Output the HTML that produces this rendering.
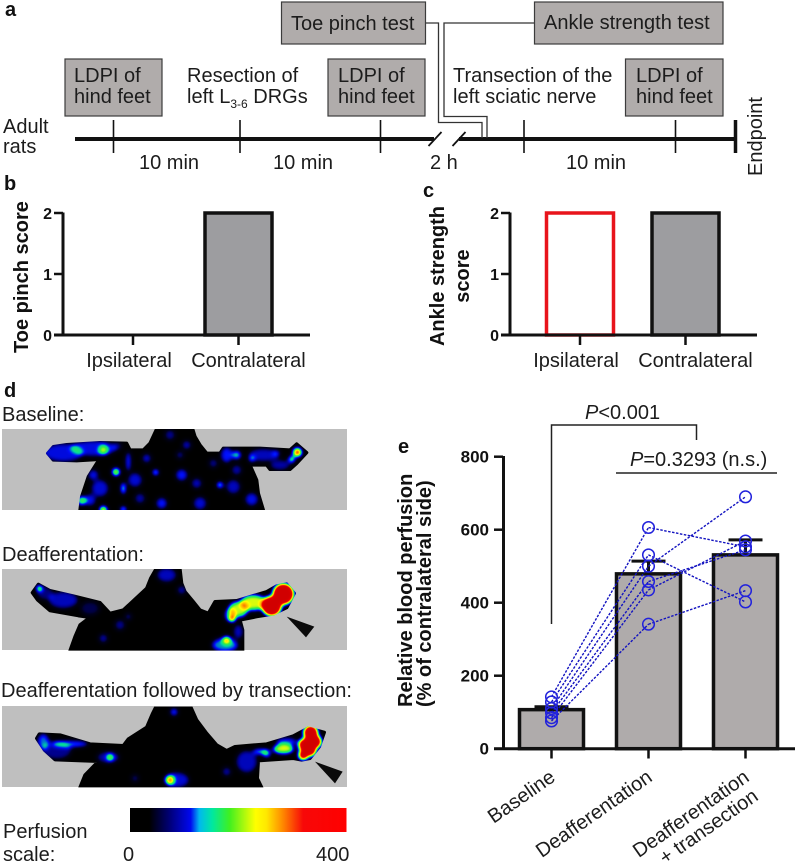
<!DOCTYPE html>
<html lang="en">
<head>
<meta charset="utf-8">
<title>Perfusion figure</title>
<style>
html,body{margin:0;padding:0;background:#fff;}
svg{display:block;}
text{font-family:"Liberation Sans",Arial,sans-serif;fill:#1c1c1c;font-size:20px;}
.pl{font-weight:bold;font-size:20px;fill:#111;}
.bx{fill:#b0acab;stroke:#3c3c3c;stroke-width:1.2;}
.tick{stroke:#111;stroke-width:1.6;}
.conn{fill:none;stroke:#333;stroke-width:1.3;}
.tl{font-weight:bold;font-size:16px;fill:#111;}
.yt{font-weight:bold;font-size:20px;fill:#111;}
.sil{fill:#fff;stroke:#fff;stroke-width:10;stroke-linejoin:round;}
</style>
</head>
<body>
<svg id="fig" xmlns="http://www.w3.org/2000/svg" width="797" height="863" viewBox="0 0 797 863">
<defs>
<linearGradient id="cbar" x1="0" x2="1" y1="0" y2="0">
<stop offset="0" stop-color="#000"/><stop offset=".09" stop-color="#000"/><stop offset=".19" stop-color="#000080"/><stop offset=".28" stop-color="#0008f0"/><stop offset=".32" stop-color="#00b8f0"/><stop offset=".38" stop-color="#00e8a0"/><stop offset=".46" stop-color="#40f020"/><stop offset=".58" stop-color="#ffff00"/><stop offset=".63" stop-color="#ffe800"/><stop offset=".7" stop-color="#ff9000"/><stop offset=".8" stop-color="#f80808"/><stop offset="1" stop-color="#ff0000"/>
</linearGradient>
<filter id="heat" filterUnits="userSpaceOnUse" x="0" y="0" width="1060" height="300" color-interpolation-filters="sRGB">
<feGaussianBlur stdDeviation="7"/>
<feComponentTransfer>
<feFuncR type="table" tableValues="0 0 0 0 0 .25 1 1 .94 .86 .82"/>
<feFuncG type="table" tableValues="0 0 0 .06 .85 .94 1 .63 0 0 0"/>
<feFuncB type="table" tableValues="0 .11 .56 1 .63 .25 0 0 0 0 0"/>
</feComponentTransfer>
</filter>
<clipPath id="box1"><rect x="6" y="27" width="1035" height="243"/></clipPath>
<clipPath id="box2"><rect x="6" y="27" width="1035" height="245"/></clipPath>
<clipPath id="box3"><rect x="6" y="20" width="1035" height="242"/></clipPath>
<mask id="sil1" maskUnits="userSpaceOnUse" x="0" y="0" width="1060" height="300"><polygon class="sil" points="470,27 578,27 585,50 600,75 620,100 660,100 670,85 780,85 870,90 890,72 920,98 890,130 870,148 810,148 800,135 750,135 770,180 775,220 790,270 240,270 245,230 265,170 290,130 300,118 230,122 160,120 143,100 160,80 200,74 300,68 380,70 390,90 430,90 450,70"/></mask>
<mask id="sil2" maskUnits="userSpaceOnUse" x="0" y="0" width="1060" height="300"><polygon class="sil" points="468,27 540,27 545,70 555,95 580,125 600,150 625,160 645,125 710,122 800,95 830,78 860,72 883,100 860,143 820,162 770,170 720,180 728,210 728,272 210,272 225,230 240,195 270,172 235,167 150,152 113,120 97,98 115,73 150,92 220,108 300,128 330,160 370,150 440,85 452,55"/></mask>
<mask id="sil3" maskUnits="userSpaceOnUse" x="0" y="0" width="1060" height="300"><polygon class="sil" points="468,20 572,20 590,60 620,100 650,135 680,152 705,140 800,132 880,108 925,84 973,97 958,140 930,175 905,180 880,175 775,182 772,235 785,262 240,262 255,225 295,184 165,179 133,150 110,115 118,102 180,105 270,132 370,137 385,117 440,82 458,40"/></mask>
</defs>

<!-- Panel a -->
<g>
<text class="pl" x="5" y="16">a</text>
<line x1="75" x2="434" y1="139" y2="139" stroke="#111" stroke-width="4"/>
<line x1="459" x2="736" y1="139" y2="139" stroke="#111" stroke-width="4"/>
<line class="tick" x1="113.500" x2="113.500" y1="120" y2="153"/>
<line class="tick" x1="240" x2="240" y1="120" y2="153"/>
<line class="tick" x1="380.500" x2="380.500" y1="120" y2="153"/>
<line class="tick" x1="524" x2="524" y1="120" y2="153"/>
<line class="tick" x1="675.500" x2="675.500" y1="120" y2="153"/>
<line x1="735.500" x2="735.500" y1="120" y2="153" stroke="#111" stroke-width="3.500"/>
<line x1="428.500" y1="146" x2="441.500" y2="132" stroke="#111" stroke-width="1.800"/>
<line x1="452.500" y1="146" x2="465.500" y2="132" stroke="#111" stroke-width="1.800"/>
<polyline class="conn" points="425,23 438.500,23 438.500,122.500 482,122.500 482,138"/>
<polyline class="conn" points="534,23 444,23 444,116.500 487,116.500 487,138"/>

<rect class="bx" x="65" y="59" width="97" height="57"/>
<text x="74" y="82">LDPI of</text>
<text x="74" y="103">hind feet</text>
<rect class="bx" x="328" y="59" width="97" height="57"/>
<text x="338" y="82">LDPI of</text>
<text x="338" y="103">hind feet</text>
<rect class="bx" x="625.500" y="59" width="97.500" height="57"/>
<text x="636" y="82">LDPI of</text>
<text x="636" y="103">hind feet</text>
<rect class="bx" x="281.500" y="2" width="144" height="42"/>
<text x="291" y="30">Toe pinch test</text>
<rect class="bx" x="534.500" y="2" width="188.500" height="42"/>
<text x="544" y="29">Ankle strength test</text>

<text x="187" y="82">Resection of</text>
<text x="187" y="103">left L<tspan font-size="12" dy="5">3-6</tspan><tspan dy="-5"> DRGs</tspan></text>
<text x="453" y="82">Transection of the</text>
<text x="453" y="103">left sciatic nerve</text>
<text x="3" y="133">Adult</text>
<text x="3" y="153">rats</text>
<text x="139" y="169">10 min</text>
<text x="273" y="169">10 min</text>
<text x="430" y="169">2 h</text>
<text x="566" y="169">10 min</text>
<text transform="translate(762,176) rotate(-90)">Endpoint</text>
</g>

<text class="pl" x="4" y="190">b</text>
<text class="pl" x="423" y="197">c</text>
<text class="pl" x="4" y="397">d</text>
<text class="pl" x="398" y="453">e</text>

<g id="chart-b"></g>
<g id="chart-c"></g>

<!-- Panel d -->
<g>
<text x="2" y="421">Baseline:</text>
<rect x="2" y="429" width="345" height="81" fill="#bfbfbf"/>
<g transform="translate(0,420) scale(.33333)">
<g clip-path="url(#box1)"><g mask="url(#sil1)">
<g filter="url(#heat)" fill="#fff">
<rect x="0" y="0" width="1060" height="300" fill="#000"/>
<ellipse cx="190" cy="98" rx="60" ry="28" opacity=".27"/>
<ellipse cx="280" cy="85" rx="70" ry="24" opacity=".27"/>
<circle cx="310" cy="90" r="15" opacity=".42"/>
<circle cx="352" cy="78" r="14" opacity=".18"/>
<ellipse cx="385" cy="125" rx="8" ry="30" opacity=".34"/>
<circle cx="348" cy="156" r="12" opacity=".66"/>
<circle cx="245" cy="242" r="14" opacity=".5"/>
<circle cx="310" cy="270" r="12" opacity=".7"/>
<circle cx="467" cy="157" r="9" opacity=".55"/>
<ellipse cx="370" cy="205" rx="7" ry="18" opacity=".55"/>
<circle cx="660" cy="195" r="9" opacity=".6"/>
<circle cx="545" cy="165" r="18" opacity=".3"/>
<circle cx="510" cy="45" r="16" opacity=".2"/>
<circle cx="560" cy="75" r="14" opacity=".24"/>
<circle cx="405" cy="180" r="22" opacity=".26"/>
<circle cx="300" cy="205" r="26" opacity=".26"/>
<circle cx="280" cy="165" r="16" opacity=".28"/>
<circle cx="485" cy="250" r="17" opacity=".3"/>
<circle cx="600" cy="250" r="20" opacity=".26"/>
<circle cx="700" cy="200" r="22" opacity=".24"/>
<circle cx="755" cy="238" r="20" opacity=".28"/>
<circle cx="440" cy="115" r="14" opacity=".26"/>
<circle cx="540" cy="105" r="12" opacity=".2"/>
<circle cx="370" cy="268" r="9" opacity=".55"/>
<circle cx="270" cy="240" r="18" opacity=".28"/>
<circle cx="420" cy="235" r="16" opacity=".22"/>
<circle cx="590" cy="190" r="16" opacity=".24"/>
<circle cx="640" cy="130" r="14" opacity=".2"/>
<circle cx="710" cy="150" r="16" opacity=".22"/>
<circle cx="710" cy="105" r="14" opacity=".42"/>
<circle cx="755" cy="117" r="10" opacity=".36"/>
<circle cx="830" cy="100" r="12" opacity=".22"/>
<ellipse cx="790" cy="105" rx="45" ry="20" opacity=".24"/>
<ellipse cx="680" cy="105" rx="18" ry="24" opacity=".3"/>
<ellipse cx="840" cy="135" rx="30" ry="16" opacity=".22"/>
<circle cx="892" cy="97" r="14" opacity=".72"/>
<circle cx="875" cy="118" r="10" opacity=".6"/>
<circle cx="893" cy="97" r="7" opacity=".9"/>
</g>
</g></g>
</g>

<text x="2" y="561">Deafferentation:</text>
<rect x="2" y="569" width="345" height="81" fill="#bfbfbf"/>
<g transform="translate(0,560) scale(.33333)">
<g clip-path="url(#box2)"><g mask="url(#sil2)">
<g filter="url(#heat)" fill="#fff">
<rect x="0" y="0" width="1060" height="300" fill="#000"/>
<circle cx="118" cy="85" r="9" opacity=".7"/>
<ellipse cx="190" cy="120" rx="45" ry="26" opacity=".24"/>
<ellipse cx="135" cy="100" rx="25" ry="20" opacity=".18"/>
<ellipse cx="270" cy="145" rx="30" ry="22" opacity=".14"/>
<circle cx="360" cy="195" r="16" opacity=".2"/>
<circle cx="310" cy="235" r="14" opacity=".22"/>
<circle cx="545" cy="90" r="14" opacity=".22"/>
<ellipse cx="500" cy="45" rx="30" ry="22" opacity=".24"/>
<circle cx="385" cy="170" r="10" opacity=".22"/>
<circle cx="850" cy="102" r="32" opacity="1"/>
<circle cx="815" cy="138" r="30" opacity="1"/>
<ellipse cx="760" cy="128" rx="40" ry="24" opacity=".58"/>
<ellipse cx="715" cy="148" rx="30" ry="24" opacity=".56"/>
<circle cx="697" cy="176" r="9" opacity=".95"/>
<ellipse cx="690" cy="165" rx="16" ry="20" opacity=".4"/>
<circle cx="680" cy="240" r="12" opacity=".6"/>
<ellipse cx="675" cy="255" rx="40" ry="22" opacity=".36"/>
<ellipse cx="715" cy="215" rx="15" ry="22" opacity=".24"/>
</g>
</g></g>
<polygon points="860,170 943,200 918,232" fill="#0a0a0a"/>
</g>

<text x="1" y="697">Deafferentation followed by transection:</text>
<rect x="2" y="706" width="345" height="81" fill="#bfbfbf"/>
<g transform="translate(0,700) scale(.33333)">
<g clip-path="url(#box3)"><g mask="url(#sil3)">
<g filter="url(#heat)" fill="#fff">
<rect x="0" y="0" width="1060" height="300" fill="#000"/>
<ellipse cx="130" cy="125" rx="18" ry="24" opacity=".34"/>
<ellipse cx="210" cy="132" rx="55" ry="10" opacity=".36"/>
<ellipse cx="170" cy="150" rx="45" ry="28" opacity=".2"/>
<circle cx="330" cy="172" r="10" opacity=".55"/>
<ellipse cx="325" cy="172" rx="34" ry="18" opacity=".22"/>
<circle cx="510" cy="240" r="13" opacity=".7"/>
<ellipse cx="530" cy="240" rx="38" ry="24" opacity=".26"/>
<circle cx="522" cy="36" r="12" opacity=".34"/>
<circle cx="680" cy="215" r="14" opacity=".22"/>
<circle cx="405" cy="235" r="12" opacity=".18"/>
<ellipse cx="740" cy="185" rx="32" ry="34" opacity=".24"/>
<ellipse cx="780" cy="155" rx="22" ry="9" opacity=".42"/>
<ellipse cx="850" cy="147" rx="32" ry="15" opacity=".58"/>
<circle cx="800" cy="160" r="13" opacity=".42"/>
<ellipse cx="860" cy="125" rx="32" ry="12" opacity=".32"/>
<circle cx="932" cy="98" r="22" opacity="1"/>
<circle cx="945" cy="125" r="20" opacity="1"/>
<circle cx="915" cy="135" r="20" opacity="1"/>
<circle cx="930" cy="150" r="19" opacity="1"/>
<circle cx="910" cy="165" r="15" opacity="1"/>
</g>
</g></g>
<polygon points="945,185 1028,215 1005,250" fill="#0a0a0a"/>
</g>

<rect x="130" y="808" width="216.500" height="24" fill="url(#cbar)"/>
<text x="3" y="838">Perfusion</text>
<text x="3" y="861">scale:</text>
<text x="123" y="861">0</text>
<text x="316" y="861">400</text>
</g>

<g id="chart-e"></g>
</svg>

<script>
const scoreTicks = [0, 1, 2];
const pinchCategories = ['Ipsilateral', 'Contralateral'];
const pinchValues = [0, 2];
const ankleCategories = ['Ipsilateral', 'Contralateral'];
const ankleValues = [2, 2];

const perfusionTicks = [0, 200, 400, 600, 800];
const perfusionCategories = ['Baseline', 'Deafferentation', 'Deafferentation|+ transection'];
const perfusionMeans = [107, 479, 531];
const perfusionErrors = [8, 35, 41];
const baselinePoints = [142, 128, 110, 98, 85, 76];
const deafferentationPoints = [606, 531, 500, 458, 435, 341];
const transectionPoints = [553, 402, 690, 545, 569, 433];

const SVGNS = 'http://www.w3.org/2000/svg';
function mk(tag, parent, attrs, txt) {
  const el = document.createElementNS(SVGNS, tag);
  for (const k in attrs) el.setAttribute(k, attrs[k]);
  if (txt !== undefined) el.textContent = txt;
  parent.appendChild(el);
  return el;
}

function drawScoreChart(root, categories, values, axisX, firstCenter, barStrokes, barFills) {
  const yScale = v => 335 - v * 61;
  const xScale = i => firstCenter + i * 105.5;

  categories.forEach((name, i) => {
    const bar = mk('rect', root, {x: xScale(i) - 33.5, y: yScale(values[i]), width: 67, height: 335 - yScale(values[i]), fill: barFills[i], stroke: barStrokes[i], 'stroke-width': 3.5});
    
    
  });

  const yAxis = mk('line', root, {x1: axisX, x2: axisX, y1: 212.5, y2: 336, stroke: '#111', 'stroke-width': 3});
  
  

  const xAxis = mk('line', root, {x1: axisX - 9, x2: axisX + 247, y1: 335, y2: 335, stroke: '#111', 'stroke-width': 3});
  
  

  scoreTicks.forEach(t => {
    const tick = mk('line', root, {x1: axisX - 9, x2: axisX, y1: yScale(t), y2: yScale(t), stroke: '#111', 'stroke-width': 2.5});
    
    
    const label = mk('text', root, {x: axisX - 11, y: yScale(t) + 6, 'text-anchor': 'end', class: 'tl'}, t);
    
    
  });

  categories.forEach((name, i) => {
    const tick = mk('line', root, {x1: xScale(i), x2: xScale(i), y1: 335, y2: 345, stroke: '#111', 'stroke-width': 2.5});
    
    
    const label = mk('text', root, {x: xScale(i) + (i === 0 ? -4 : 10), y: 367, 'text-anchor': 'middle'}, name);
    
    
  });
}

const chartB = document.getElementById('chart-b');
drawScoreChart(chartB, pinchCategories, pinchValues, 63, 133, ['#111', '#111'], ['none', '#9d9da0']);
const titleB = mk('text', chartB, {transform: 'translate(28,353) rotate(-90)', class: 'yt'}, 'Toe pinch score');



const chartC = document.getElementById('chart-c');
drawScoreChart(chartC, ankleCategories, ankleValues, 510, 580, ['#e8141c', '#111'], ['none', '#9d9da0']);
const titleC1 = mk('text', chartC, {transform: 'translate(444,276) rotate(-90)', class: 'yt', 'text-anchor': 'middle'}, 'Ankle strength');


const titleC2 = mk('text', chartC, {transform: 'translate(469,276) rotate(-90)', class: 'yt', 'text-anchor': 'middle'}, 'score');



(function drawPerfusion() {
  const root = document.getElementById('chart-e');
  const yScale = v => 748.7 - v * 0.365;
  const xScale = i => 551.5 + i * 97;

  perfusionCategories.forEach((name, i) => {
    const err = mk('line', root, {x1: xScale(i), x2: xScale(i), y1: yScale(perfusionMeans[i]), y2: yScale(perfusionMeans[i] + perfusionErrors[i]), stroke: '#111', 'stroke-width': 3});
    
    
    const cap = mk('line', root, {x1: xScale(i) - 17, x2: xScale(i) + 17, y1: yScale(perfusionMeans[i] + perfusionErrors[i]), y2: yScale(perfusionMeans[i] + perfusionErrors[i]), stroke: '#111', 'stroke-width': 3});
    
    
    const bar = mk('rect', root, {x: xScale(i) - 32, y: yScale(perfusionMeans[i]), width: 64, height: 748.7 - yScale(perfusionMeans[i]), fill: '#afabab', stroke: '#111', 'stroke-width': 3.5});
    
    
  });

  const yAxis = mk('line', root, {x1: 503.5, x2: 503.5, y1: 456, y2: 750, stroke: '#111', 'stroke-width': 3});
  
  

  const xAxis = mk('line', root, {x1: 494, x2: 795, y1: 748.7, y2: 748.7, stroke: '#111', 'stroke-width': 3});
  
  

  perfusionTicks.forEach(t => {
    const tick = mk('line', root, {x1: 494, x2: 503, y1: yScale(t), y2: yScale(t), stroke: '#111', 'stroke-width': 2.5});
    
    
    const label = mk('text', root, {x: 489, y: yScale(t) + 6, 'text-anchor': 'end', class: 'tl', style: 'font-size:17px'}, t);
    
    
  });

  perfusionCategories.forEach((name, i) => {
    const tick = mk('line', root, {x1: xScale(i), x2: xScale(i), y1: 748.7, y2: 758.5, stroke: '#111', 'stroke-width': 2.5});
    
    
    name.split('|').forEach((line, j) => {
      const lx = xScale(i) + 5 + j * 9;
      const ly = 780 + j * 19;
      const label = mk('text', root, {transform: 'translate(' + lx + ',' + ly + ') rotate(-35)', 'text-anchor': 'end'}, line);
      
      
    });
  });

  const lineColor = '#1212c0';
  baselinePoints.forEach((v, i) => {
    const a = mk('line', root, {x1: xScale(0), y1: yScale(v), x2: xScale(1), y2: yScale(deafferentationPoints[i]), stroke: lineColor, 'stroke-width': 1.4, 'stroke-dasharray': '2.5 1.5'});
    
    
    const b = mk('line', root, {x1: xScale(1), y1: yScale(deafferentationPoints[i]), x2: xScale(2), y2: yScale(transectionPoints[i]), stroke: lineColor, 'stroke-width': 1.4, 'stroke-dasharray': '2.5 1.5'});
    
    
  });

  [baselinePoints, deafferentationPoints, transectionPoints].forEach((series, s) => {
    series.forEach((v, i) => {
      const p = mk('circle', root, {cx: xScale(s), cy: yScale(v), r: 5.8, fill: 'none', stroke: '#2222dc', 'stroke-width': 1.5});
      
      
    });
  });

  const t1 = mk('text', root, {transform: 'translate(412,707) rotate(-90)', class: 'yt'}, 'Relative blood perfusion');
  
  
  const t2 = mk('text', root, {transform: 'translate(431,707) rotate(-90)', class: 'yt'}, '(% of contralateral side)');
  
  

  const br = mk('polyline', root, {points: '551.5,624 551.5,425 696.5,425 696.5,440', fill: 'none', stroke: '#222', 'stroke-width': 1.5});
  
  
  const sl = mk('line', root, {x1: 616, x2: 777, y1: 473, y2: 473, stroke: '#222', 'stroke-width': 1.5});
  
  

  const p1 = mk('text', root, {x: 585, y: 419});
  
  
  mk('tspan', p1, {'font-style': 'italic'}, 'P');
  mk('tspan', p1, {}, '<0.001');

  const p2 = mk('text', root, {x: 630, y: 466});
  
  
  mk('tspan', p2, {'font-style': 'italic'}, 'P');
  mk('tspan', p2, {}, '=0.3293 (n.s.)');
})();
</script>
</body>
</html>
